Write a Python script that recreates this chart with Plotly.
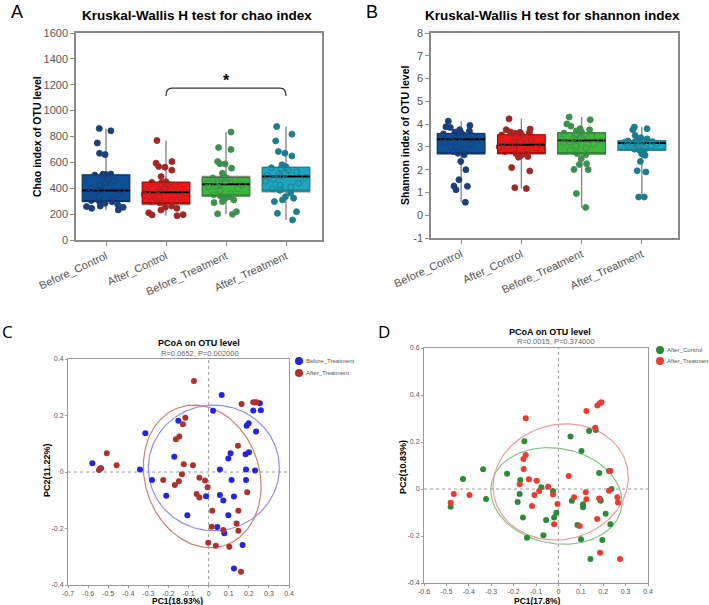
import numpy as np
import plotly.graph_objects as go

W, H = 709, 605
def px(x):
    return x / W
def py(y):
    return 1 - y / H

FONT = "Liberation Sans, Arial, sans-serif"

# ---------------- data: panels A and B ----------------
groups = ["Before_Control", "After_Control", "Before_Treatment", "After_Treatment"]

chao_before_control = [232, 245, 253, 258, 262, 271, 284, 295, 298, 305, 318, 330, 348, 361, 370, 378,
                       386, 398, 426, 440, 457, 465, 498, 502, 506, 508, 510, 660, 670, 750, 844, 862]
chao_after_control = [188, 194, 196, 210, 232, 245, 253, 262, 287, 298, 310, 322, 335, 350, 358, 365,
                      373, 380, 390, 402, 420, 432, 440, 445, 450, 490, 540, 563, 568, 594, 606, 769]
chao_before_treatment = [199, 202, 219, 289, 297, 310, 322, 335, 341, 350, 362, 380, 398, 410, 420, 428,
                         431, 440, 448, 456, 462, 470, 476, 480, 483, 516, 555, 588, 590, 606, 700, 715, 834]
chao_after_treatment = [155, 206, 219, 297, 310, 323, 335, 362, 384, 395, 410, 425, 440, 455, 470, 485,
                        495, 500, 508, 515, 525, 540, 555, 558, 566, 581, 650, 671, 684, 766, 818, 877]

shannon_before_control = [0.57, 1.12, 1.27, 1.28, 1.56, 2.00, 2.36, 2.65, 2.72, 2.80, 2.90, 3.00, 3.10, 3.20,
                          3.25, 3.30, 3.36, 3.40, 3.42, 3.45, 3.50, 3.52, 3.55, 3.57, 3.62, 3.65, 3.70, 3.75,
                          3.85, 3.88, 3.94, 4.13]
shannon_after_control = [1.17, 1.21, 1.94, 2.09, 2.55, 2.58, 2.62, 2.69, 2.71, 2.80, 2.85, 2.90, 2.95, 3.00,
                         3.05, 3.08, 3.10, 3.15, 3.20, 3.25, 3.30, 3.35, 3.42, 3.52, 3.56, 3.60, 3.62, 3.64,
                         3.66, 3.75, 3.78, 4.23]
shannon_before_treatment = [0.34, 0.95, 2.00, 2.01, 2.23, 2.26, 2.48, 2.66, 2.71, 2.85, 2.95, 3.05, 3.12, 3.18,
                            3.22, 3.26, 3.30, 3.34, 3.38, 3.42, 3.46, 3.50, 3.55, 3.60, 3.65, 3.70, 3.75, 3.80,
                            3.91, 4.01, 4.19, 4.31]
shannon_after_treatment = [0.80, 0.80, 1.90, 1.95, 2.36, 2.63, 2.70, 2.84, 2.86, 2.90, 2.95, 3.00, 3.05, 3.10,
                           3.14, 3.16, 3.18, 3.20, 3.21, 3.22, 3.23, 3.24, 3.25, 3.26, 3.28, 3.30, 3.35, 3.40,
                           3.50, 3.75, 3.80, 3.87]

chao_ticks = [0, 200, 400, 600, 800, 1000, 1200, 1400, 1600]
shannon_ticks = [-1, 0, 1, 2, 3, 4, 5, 6, 7, 8]
shannon_ticklabels = ["-1", "0", "1", "2", "3", "4", "5", "6", "7", "8"]

sig_pair = ["After_Control", "After_Treatment"]
sig_level = 1174
sig_label = "*"

# ---------------- data: panel C ----------------
c_before_x = [-0.579, -0.536, -0.342, -0.315, -0.282, -0.211, -0.171, -0.151, -0.106, -0.013, 0.022, 0.056,
              0.065, 0.056, 0.073, 0.043, 0.078, 0.098, 0.109, 0.114, 0.098, 0.126, 0.186, 0.186, 0.184,
              0.201, 0.189, 0.199, 0.222, 0.255, 0.260, 0.236, 0.231, 0.169, 0.126]
c_before_y = [0.031, 0.013, 0.009, 0.137, -0.028, -0.084, 0.054, 0.181, -0.153, -0.086, 0.217, 0.009,
              0.273, -0.081, -0.101, -0.195, -0.217, 0.048, 0.066, -0.028, -0.153, -0.087, -0.028, 0.009,
              0.063, 0.070, 0.164, 0.173, 0.218, 0.243, 0.219, 0.143, 0.005, -0.258, -0.342]
c_after_x = [-0.507, -0.546, -0.540, -0.458, -0.073, -0.116, -0.128, -0.146, -0.163, -0.124, -0.078, -0.133,
             -0.226, -0.148, -0.168, -0.046, -0.018, -0.005, -0.060, -0.046, 0.018, 0.015, 0.073, 0.148,
             0.139, 0.148, -0.002, 0.036, 0.103, 0.161, 0.146, 0.192, 0.164, 0.222, 0.239, 0.230]
c_after_y = [0.066, 0.007, 0.012, 0.024, 0.322, 0.192, 0.169, 0.126, 0.116, 0.027, 0.024, -0.008,
             -0.028, -0.033, -0.046, -0.020, -0.030, -0.054, -0.078, -0.090, -0.137, -0.194, -0.205, -0.137,
             -0.182, -0.208, -0.250, -0.261, -0.265, -0.353, 0.093, -0.072, 0.241, 0.247, 0.247, 0.246]
# confidence ellipse: [center x, center y, half-width in x, half-height in y, correlation]
c_before_ellipse = [0.026, 0.0145, 0.326, 0.2225, 0.0]
c_after_ellipse = [-0.032, -0.0155, 0.293, 0.2525, -0.14]
c_xticks = [-0.7, -0.6, -0.5, -0.4, -0.3, -0.2, -0.1, 0, 0.1, 0.2, 0.3, 0.4]
c_xticklabels = ["-0.7", "-0.6", "-0.5", "-0.4", "-0.3", "-0.2", "-0.1", "0", "0.1", "0.2", "0.3", "0.4"]
c_yticks = [-0.4, -0.2, 0, 0.2, 0.4]
c_yticklabels = ["-0.4", "-0.2", "0", "0.2", "0.4"]

# ---------------- data: panel D ----------------
d_control_x = [-0.481, -0.426, -0.336, -0.323, -0.229, -0.170, -0.173, -0.182, -0.158, -0.152, -0.140, -0.076,
               -0.055, -0.067, -0.024, -0.019, -0.009, 0.054, 0.060, 0.103, 0.110, 0.110, 0.085, 0.101,
               0.137, 0.167, 0.182, 0.185, 0.189, 0.211, 0.237, 0.232, 0.196, 0.143, 0.226]
d_control_y = [-0.075, 0.043, 0.084, -0.043, 0.065, 0.038, -0.021, -0.055, -0.121, 0.203, -0.207, 0.007,
               -0.132, -0.197, -0.009, -0.121, -0.101, 0.223, -0.050, 0.162, -0.065, -0.078, -0.153, -0.214,
               0.247, 0.251, 0.068, -0.043, -0.050, -0.105, 0.000, -0.150, -0.217, -0.298, 0.077]
d_treat_x = [-0.481, -0.467, -0.397, -0.146, -0.146, -0.156, -0.155, -0.173, -0.132, -0.097, -0.086, -0.107,
             -0.118, -0.046, -0.024, -0.004, -0.019, 0.046, 0.070, 0.095, 0.122, 0.125, 0.125, 0.174,
             0.185, 0.192, 0.164, 0.182, 0.173, 0.186, 0.226, 0.232, 0.263, 0.266, 0.275]
d_treat_y = [-0.058, -0.021, -0.026, 0.301, 0.145, 0.128, 0.085, 0.020, 0.041, 0.035, -0.009, -0.026,
             -0.072, 0.010, -0.023, -0.064, -0.150, 0.055, -0.035, -0.157, -0.014, -0.044, 0.332, 0.355,
             0.365, 0.369, 0.261, -0.040, -0.128, -0.271, -0.007, 0.077, -0.035, -0.057, -0.298]
d_control_ellipse = [-0.009, -0.0295, 0.293, 0.2055, -0.12]
d_treat_ellipse = [0.010, 0.030, 0.302, 0.247, 0.08]
d_xticks = [-0.6, -0.5, -0.4, -0.3, -0.2, -0.1, 0, 0.1, 0.2, 0.3, 0.4]
d_xticklabels = ["-0.6", "-0.5", "-0.4", "-0.3", "-0.2", "-0.1", "0", "0.1", "0.2", "0.3", "0.4"]
d_yticks = [-0.4, -0.2, 0, 0.2, 0.4, 0.6]
d_yticklabels = ["-0.4", "-0.2", "0", "0.2", "0.4", "0.6"]

# ---------------- styles ----------------
fill_colors = ["#0f4f96", "#f21616", "#3db83d", "#1ea6bf"]
edge_colors = ["#0a3566", "#b00000", "#2a7d2a", "#147f90"]
pt_colors = ["#1b3f78", "#a32626", "#3f8f4f", "#1d7d8d"]
whisker_color = "#8a8a8a"
box_width = 0.79

fig = go.Figure()


def add_boxes(data_lists, xa, ya):
    for i, vals in enumerate(data_lists):
        xs = [i] * len(vals)
        q1, med, q3 = np.quantile(vals, [0.25, 0.5, 0.75])
        common = dict(xaxis=xa, yaxis=ya, width=box_width, showlegend=False, hoverinfo="skip")
        fig.add_trace(go.Box(x=xs, y=vals, boxpoints=False, whiskerwidth=0,
                             line=dict(color=whisker_color, width=1.4),
                             fillcolor="rgba(0,0,0,0)", **common))
        fig.add_trace(go.Box(x=xs, y=vals, boxpoints="all", jitter=1, pointpos=0,
                             line=dict(color="rgba(0,0,0,0)", width=0), fillcolor="rgba(0,0,0,0)",
                             marker=dict(color=pt_colors[i], size=6), **common))
        fig.add_trace(go.Box(x=[i], q1=[q1], median=[q1], q3=[q3], lowerfence=[q1], upperfence=[q3],
                             whiskerwidth=0, line=dict(color=edge_colors[i], width=1),
                             fillcolor=fill_colors[i], boxpoints=False, **common))
        fig.add_trace(go.Box(x=[i], q1=[med], median=[med], q3=[med], lowerfence=[med], upperfence=[med],
                             whiskerwidth=0, line=dict(color="black", width=2),
                             fillcolor="rgba(0,0,0,0)", boxpoints=False, **common))
        fig.add_trace(go.Box(x=xs, y=vals, boxpoints="all", jitter=1, pointpos=0,
                             line=dict(color="rgba(0,0,0,0)", width=0), fillcolor="rgba(0,0,0,0)",
                             marker=dict(symbol="circle-open", color=pt_colors[i], size=6,
                                         line=dict(width=0.9, color=pt_colors[i])), **common))


add_boxes([chao_before_control, chao_after_control, chao_before_treatment, chao_after_treatment], "x", "y")
add_boxes([shannon_before_control, shannon_after_control, shannon_before_treatment, shannon_after_treatment],
          "x2", "y2")


def ellipse_xy(e):
    cx, cy, a, b, rho = e
    phi = np.arccos(rho)
    t = np.linspace(0, 2 * np.pi, 240)
    return (cx + a * np.cos(t)).tolist(), (cy + b * np.cos(t - phi)).tolist()


def add_pcoa(xa, ya, sets):
    for s in sets:
        x, y = ellipse_xy(s[2])
        fig.add_trace(go.Scatter(x=x, y=y, mode="lines", line=dict(color=s[4], width=1.2),
                                 xaxis=xa, yaxis=ya, showlegend=False, hoverinfo="skip"))
    for s in sets:
        fig.add_trace(go.Scatter(x=s[0], y=s[1], mode="markers", marker=dict(color=s[3], size=6),
                                 xaxis=xa, yaxis=ya, showlegend=False))


c_blue, c_red = "#2424e6", "#b0302a"
d_green, d_red = "#2a8a35", "#f03a30"
add_pcoa("x3", "y3", [(c_before_x, c_before_y, c_before_ellipse, c_blue, "#8e8ef5"),
                      (c_after_x, c_after_y, c_after_ellipse, c_red, "#cf8070")])
add_pcoa("x4", "y4", [(d_control_x, d_control_y, d_control_ellipse, d_green, "#86c486"),
                      (d_treat_x, d_treat_y, d_treat_ellipse, d_red, "#f09a9a")])

# ---------------- axes ----------------
ab_axis = dict(showline=True, mirror=True, linecolor="#8a8a8a", linewidth=1.5, ticks="outside", ticklen=4,
               tickcolor="#8a8a8a", showgrid=False, zeroline=False,
               tickfont=dict(family=FONT, size=11, color="#555555"))
pc_axis = dict(showline=True, mirror=True, linecolor="#9a9a9a", linewidth=1, ticks="outside", ticklen=2,
               tickcolor="#9a9a9a", showgrid=False, zeroline=False,
               tickfont=dict(family=FONT, size=7, color="#555555"))

fig.update_layout(
    width=W, height=H, autosize=False, template="none",
    margin=dict(l=0, r=0, t=0, b=0), paper_bgcolor="white", plot_bgcolor="white",
    font=dict(family=FONT), showlegend=False, boxmode="overlay",
    xaxis=dict(domain=[px(76), px(322)], range=[-0.5, 3.6], tickvals=[0, 1, 2, 3], ticktext=groups,
               tickangle=-25, anchor="y", **ab_axis),
    yaxis=dict(domain=[py(240), py(33)], range=[0, 1600], tickvals=chao_ticks, anchor="x", **ab_axis),
    xaxis2=dict(domain=[px(431), px(678)], range=[-0.5, 3.6], tickvals=[0, 1, 2, 3], ticktext=groups,
                tickangle=-25, anchor="y2", **ab_axis),
    yaxis2=dict(domain=[py(238), py(33)], range=[-1, 8], tickvals=shannon_ticks,
                ticktext=shannon_ticklabels, anchor="x2", **ab_axis),
    xaxis3=dict(domain=[px(68), px(289)], range=[-0.7, 0.4], tickvals=c_xticks, ticktext=c_xticklabels,
                anchor="y3", **pc_axis),
    yaxis3=dict(domain=[py(585), py(359)], range=[-0.4, 0.4], tickvals=c_yticks, ticktext=c_yticklabels,
                anchor="x3", **pc_axis),
    xaxis4=dict(domain=[px(424), px(648)], range=[-0.6, 0.4], tickvals=d_xticks, ticktext=d_xticklabels,
                anchor="y4", **pc_axis),
    yaxis4=dict(domain=[py(583), py(348)], range=[-0.4, 0.6], tickvals=d_yticks, ticktext=d_yticklabels,
                anchor="x4", **pc_axis),
)

# ---------------- shapes ----------------
shapes = []
i1, i2 = groups.index(sig_pair[0]), groups.index(sig_pair[1])
drop, r = 60, 0.1
shapes.append(dict(type="path", xref="x", yref="y",
                   path=f"M {i1},{sig_level - drop} Q {i1},{sig_level} {i1 + r},{sig_level} "
                        f"L {i2 - r},{sig_level} Q {i2},{sig_level} {i2},{sig_level - drop}",
                   line=dict(color="#333333", width=1.3)))
for xa, ya in [("x3", "y3"), ("x4", "y4")]:
    shapes.append(dict(type="line", xref=xa, yref=f"{ya} domain", x0=0, x1=0, y0=0, y1=1, layer="below",
                       line=dict(color="#9a9a9a", width=1, dash="dot")))
    shapes.append(dict(type="line", xref=f"{xa} domain", yref=ya, x0=0, x1=1, y0=0, y1=0, layer="below",
                       line=dict(color="#9a9a9a", width=1, dash="dot")))

legend_items = [("Before_Treatment", c_blue, 299, 361), ("After_Treatment", c_red, 299, 373),
                ("After_Control", d_green, 660, 350), ("After_Treatment", d_red, 660, 361)]
annotations = []
for name, col, lx, ly in legend_items:
    shapes.append(dict(type="circle", xref="paper", yref="paper", xsizemode="pixel", ysizemode="pixel",
                       xanchor=px(lx), yanchor=py(ly), x0=-4, x1=4, y0=-4, y1=4,
                       fillcolor=col, line=dict(width=0)))
    annotations.append(dict(text=name, x=px(lx + 5), y=py(ly), xref="paper", yref="paper",
                            xanchor="left", yanchor="middle", showarrow=False,
                            font=dict(family=FONT, size=6, color="#555555")))
fig.update_layout(shapes=shapes)


def ann(text, x, y, size, color="black", angle=0, family=FONT, xanchor="center"):
    annotations.append(dict(text=text, x=px(x), y=py(y), xref="paper", yref="paper", showarrow=False,
                            xanchor=xanchor, yanchor="middle", textangle=angle,
                            font=dict(family=family, size=size, color=color)))


ann("A", 17, 12, 18, family="Liberation Sans")
ann("B", 372, 12, 18, family="Liberation Sans")
ann("C", 7, 331, 17, family="Open Sans")
ann("D", 384, 331, 17, family="Open Sans")
ann("<b>Kruskal-Wallis H test for chao index</b>", 197, 15, 13.5)
ann("<b>Kruskal-Wallis H test for shannon index</b>", 552, 15, 13.5)
ann("<b>Chao index of OTU level</b>", 37, 137, 10.5, angle=-90)
ann("<b>Shannon index of OTU level</b>", 405, 135, 10.5, angle=-90)
ann("<b>PCoA on OTU level</b>", 199, 343, 9)
ann("R=0.0652, P=0.002000", 200, 353, 7.5, color="#666666")
ann("<b>PCoA on OTU level</b>", 550, 332, 9)
ann("R=0.0015, P=0.374000", 556, 341, 7.5, color="#666666")
ann("<b>PC1(18.93%)</b>", 177, 601, 8.5)
ann("<b>PC2(11.22%)</b>", 47, 470, 9, angle=-90)
ann("<b>PC1(17.8%)</b>", 537, 601, 8.5)
ann("<b>PC2(10.83%)</b>", 403, 467, 9, angle=-90)

annotations.append(dict(text=f"<b>{sig_label}</b>", x=(i1 + i2) / 2, y=sig_level, xref="x", yref="y",
                        showarrow=False, yanchor="bottom", yshift=-3,
                        font=dict(family=FONT, size=16, color="black")))
fig.update_layout(annotations=annotations)

fig.write_html("out.html")
